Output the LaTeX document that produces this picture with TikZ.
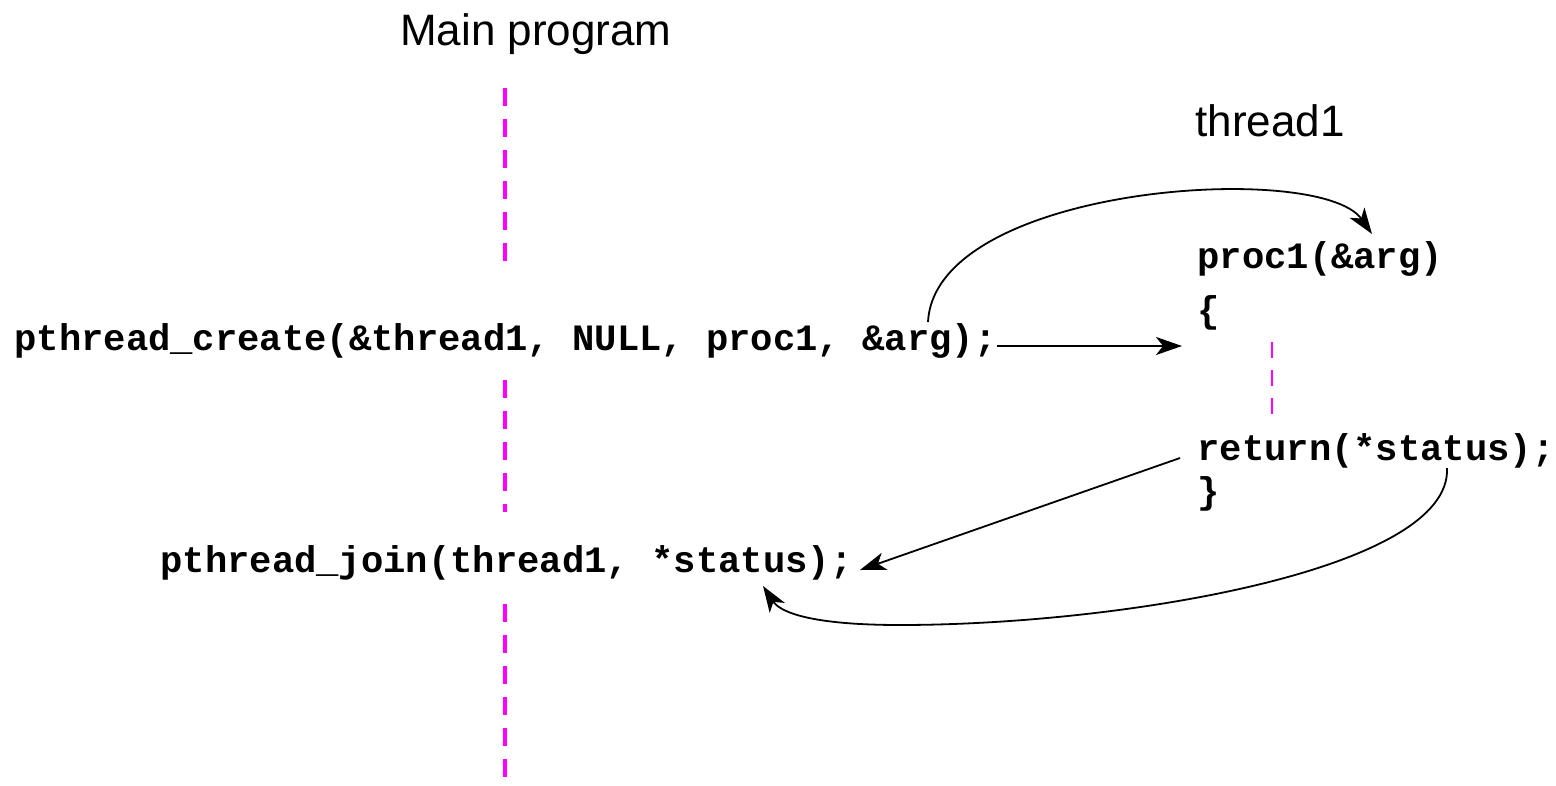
\documentclass[tikz,border=0pt]{standalone}
\usepackage{fontspec}
\setmainfont{Liberation Sans}
\newfontfamily\codefont{Liberation Mono}
\usetikzlibrary{arrows.meta}
\definecolor{lifeline}{RGB}{255,0,255}
\tikzset{
  code/.style={font=\codefont\bfseries\fontsize{18.6pt}{20pt}\selectfont, inner sep=0pt, anchor=base west},
  title/.style={font=\fontsize{22pt}{24pt}\selectfont, inner sep=0pt, anchor=base},
  mainline/.style={draw=lifeline, line width=2pt, dash pattern=on 9pt off 6.5pt},
  threadline/.style={draw=lifeline, line width=1pt, dash pattern=on 8pt off 6pt},
  call/.style={draw=black, line width=0.9pt, -{Stealth[length=13pt,width=9pt,inset=3.5pt]}}
}
\begin{document}
\begin{tikzpicture}[x=0.5pt,y=-0.5pt]
\useasboundingbox (0,0) rectangle (1556,786);
% titles
\node[title] (mainT) at (536,46) {Main program};
\node[title] (thrT) at (1270,137) {thread1};
% code
\node[code] (create) at (14,350) {pthread\_create(\&thread1, NULL, proc1, \&arg);};
\node[code] (proc) at (1197,268) {proc1(\&arg)};
\node[code] (lbrace) at (1197,322) {\{};
\node[code] (ret) at (1197,460) {return(*status);};
\node[code] (rbrace) at (1197,503) {\}};
\node[code] (join) at (160,572) {pthread\_join(thread1, *status);};
% lifelines
\coordinate (m0) at (505,88);
\coordinate (m1) at (505,272);
\coordinate (m2) at (505,380);
\coordinate (m3) at (505,512);
\coordinate (m4) at (505,604);
\coordinate (m5) at (505,786);
\draw[mainline] (m0) -- (m1);
\draw[mainline] (m2) -- (m3);
\draw[mainline] (m4) -- (m5);
\coordinate (t0) at (1272,342);
\coordinate (t1) at (1272,418);
\draw[threadline] (t0) -- (t1);
% connectors
\coordinate (a0) at (997,346);
\coordinate (a1) at (1182,346);
\draw[call] (a0) -- (a1);
\coordinate (b0) at (928,322);
\coordinate (b1) at (1372,234);
\draw[call] (b0) .. controls (935,185) and (1320,160) .. (b1);
\coordinate (c0) at (1180,458);
\coordinate (c1) at (860,570);
\draw[call] (c0) -- (c1);
\coordinate (d0) at (1447,468);
\coordinate (d1) at (900,625);
\coordinate (d2) at (763,586);
\draw[call] (d0) .. controls (1452,570) and (1120,625) .. (d1) .. controls (810,625) and (780,612) .. (d2);
\end{tikzpicture}
\end{document}
